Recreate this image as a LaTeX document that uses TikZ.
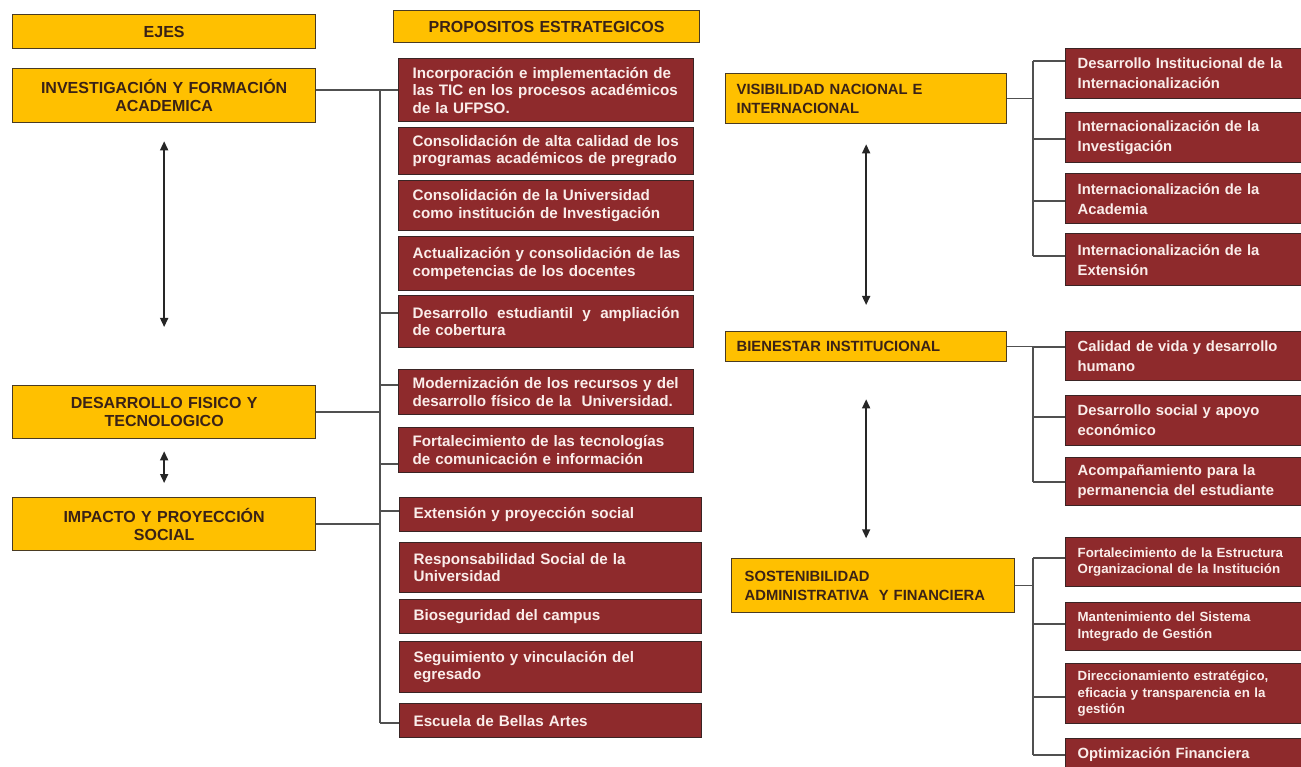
\documentclass[tikz,border=0pt]{standalone}
\usepackage{fontspec}
\setmainfont{Liberation Sans}
\newfontfamily\wideSans{Liberation Sans}[WordSpace=1.6]
\usetikzlibrary{arrows.meta}

\definecolor{gold}{HTML}{FFC000}
\definecolor{goldline}{HTML}{4A3B22}
\definecolor{maroon}{HTML}{8E2A2C}
\definecolor{maroonline}{HTML}{3A2424}
\definecolor{ink}{HTML}{3A2216}
\definecolor{paper}{HTML}{FAEDEA}
\definecolor{wire}{HTML}{505050}

% font sizes (1pt = 1 output pixel)
\newcommand\fLeft{\fontsize{16}{17.7}\selectfont\bfseries}
\newcommand\fRight{\fontsize{14.8}{19}\selectfont\bfseries}
\newcommand\fMid{\fontsize{15.2}{17.5}\selectfont\bfseries}
\newcommand\fRgt{\wideSans\fontsize{14.8}{20}\selectfont\bfseries}
\newcommand\fSml{\fontsize{13.3}{16.8}\selectfont\bfseries}
\hbadness=10000 \hfuzz=20pt

\begin{document}
\begin{tikzpicture}[x=1pt,y=-1pt,
  goldbox/.style={draw=goldline, fill=gold, line width=1.3pt, text=ink,
    inner ysep=0pt, anchor=north west},
  axis/.style={goldbox, font=\fLeft, align=center, text width=290pt,
    inner xsep=6.5pt, minimum height=#1pt},
  axisR/.style={goldbox, font=\fRight, align=left, text width=259pt,
    inner xsep=11pt, minimum height=#1pt},
  redbox/.style={draw=maroonline, fill=maroon, line width=1.3pt, text=paper,
    inner ysep=0pt, anchor=north west, align=left},
  mid/.style={redbox, font=\fMid, text width=267pt, inner xsep=14pt,
    minimum height=#1pt},
  midw/.style={redbox, font=\fMid, text width=274pt, inner xsep=14pt,
    minimum height=#1pt},
  rgt/.style={redbox, font=\fRgt, text width=221pt, inner xsep=12pt,
    minimum height=#1pt},
  sml/.style={redbox, font=\fSml, text width=221pt, inner xsep=12pt,
    minimum height=#1pt},
  wire/.style={draw=wire, line width=1.6pt},
  arr/.style={{Triangle[length=9pt,width=8pt]}-{Triangle[length=9pt,width=8pt]},
    line width=1.5pt, draw=black!85},
]
\path[use as bounding box, fill=white] (0,0) rectangle (1301,767);
\clip (0,0) rectangle (1301,767);

% ---------- headers ----------
\node[axis=34] (ejes) at (12,14) {EJES};
\node[goldbox, font=\fLeft, align=center, text width=293pt, inner xsep=6.5pt,
      minimum height=32pt] (prop) at (393,10) {PROPOSITOS ESTRATEGICOS};

% ---------- axes, left column ----------
\node[axis=54] (inv) at (12,68) {INVESTIGACIÓN Y FORMACIÓN\\ACADEMICA};
\node[axis=53] (des) at (12,385) {DESARROLLO FISICO Y\\TECNOLOGICO};
\node[axis=53] (imp) at (12,497) {IMPACTO Y PROYECCIÓN\\SOCIAL};

% ---------- strategic purposes ----------
\node[mid=63] (m1) at (398,58) {\mbox{Incorporación e implementación de}\\\mbox{las TIC en los procesos académicos}\\de la UFPSO.};
\node[mid=47] (m2) at (398,127) {\mbox{Consolidación de alta calidad de los}\\\mbox{programas académicos de pregrado}};
\node[mid=50] (m3) at (398,180) {Consolidación de la Universidad\\\mbox{como institución de Investigación}};
\node[mid=54] (m4) at (398,236) {\mbox{Actualización y consolidación de las}\\competencias de los docentes};
\node[mid=52] (m5) at (398,295) {Desarrollo\hfill estudiantil\hfill y\hfill ampliación\\de cobertura};
\node[mid=45] (m6) at (398,369) {\mbox{Modernización de los recursos y del}\\\mbox{desarrollo físico de la\ \ Universidad.}};
\node[mid=45] (m7) at (398,427) {\mbox{Fortalecimiento de las tecnologías}\\\mbox{de comunicación e información}};
\node[midw=34] (m8) at (399,497) {Extensión y proyección social};
\node[midw=50] (m9) at (399,542) {Responsabilidad Social de la\\Universidad};
\node[midw=34] (m10) at (399,599) {Bioseguridad del campus};
\node[midw=51] (m11) at (399,641) {Seguimiento y vinculación del\\egresado};
\node[midw=34] (m12) at (399,703) {Escuela de Bellas Artes};

% ---------- axes, right column ----------
\node[axisR=50] (vis) at (725,73) {VISIBILIDAD NACIONAL E\\INTERNACIONAL};
\node[axisR=30] (bien) at (725,331) {BIENESTAR INSTITUCIONAL};
\node[axisR=54, text width=257pt, inner xsep=13pt] (sost) at (731,558)
  {SOSTENIBILIDAD\\ADMINISTRATIVA\ \ Y FINANCIERA};

% ---------- programmes ----------
\node[rgt=50] (r1) at (1065,48) {\mbox{Desarrollo Institucional de la}\\Internacionalización};
\node[rgt=50] (r2) at (1065,112) {Internacionalización de la\\Investigación};
\node[rgt=50] (r3) at (1065,173) {Internacionalización de la\\Academia};
\node[rgt=52] (r4) at (1065,233) {Internacionalización de la\\Extensión};
\node[rgt=49] (r5) at (1065,331) {\mbox{Calidad de vida y desarrollo}\\humano};
\node[rgt=50] (r6) at (1065,395) {Desarrollo social y apoyo\\económico};
\node[rgt=48] (r7) at (1065,457) {Acompañamiento para la\\\mbox{permanencia del estudiante}};
\node[sml=49] (r8) at (1065,537) {\mbox{Fortalecimiento de la Estructura}\\\mbox{Organizacional de la Institución}};
\node[sml=48] (r9) at (1065,602) {Mantenimiento del Sistema\\Integrado de Gestión};
\node[sml=60] (r10) at (1065,663) {\mbox{Direccionamiento estratégico,}\\\mbox{eficacia y transparencia en la}\\gestión};
\node[rgt=31] (r11) at (1065,738) {Optimización Financiera};

% ---------- middle tree ----------
\coordinate (mbus) at (380,0);
\draw[wire] (m1.west -| inv.east) -- (m1.west);
\draw[wire] (mbus |- m1.west) -- (mbus |- 0,723);
\draw[wire] (des.east) -- (des.east -| mbus);
\draw[wire] (imp.east) -- (imp.east -| mbus);
\draw[wire] (mbus |- 0,313) -- (m5.west |- 0,313);
\draw[wire] (mbus |- 0,385) -- (m6.west |- 0,385);
\draw[wire] (mbus |- 0,464) -- (m7.west |- 0,464);
\draw[wire] (mbus |- 0,511) -- (m8.west |- 0,511);
\draw[wire] (mbus |- 0,723) -- (m12.west |- 0,723);

% ---------- right trees ----------
\coordinate (rbus) at (1033,0);
\draw[wire] (vis.east) -- (vis.east -| rbus);
\draw[wire] (rbus |- 0,61) -- (rbus |- 0,256);
\draw[wire] (rbus |- 0,61) -- (r1.west |- 0,61);
\draw[wire] (rbus |- 0,139) -- (r2.west |- 0,139);
\draw[wire] (rbus |- 0,201) -- (r3.west |- 0,201);
\draw[wire] (rbus |- 0,256) -- (r4.west |- 0,256);

\draw[wire] (bien.east) -- (bien.east -| rbus);
\draw[wire] (rbus |- bien.east) -- (rbus |- 0,482);
\draw[wire] (rbus |- 0,347) -- (r5.west |- 0,347);
\draw[wire] (rbus |- 0,417) -- (r6.west |- 0,417);
\draw[wire] (rbus |- 0,482) -- (r7.west |- 0,482);

\draw[wire] (sost.east) -- (sost.east -| rbus);
\draw[wire] (rbus |- 0,558) -- (rbus |- 0,755);
\draw[wire] (rbus |- 0,558) -- (r8.west |- 0,558);
\draw[wire] (rbus |- 0,624) -- (r9.west |- 0,624);
\draw[wire] (rbus |- 0,697) -- (r10.west |- 0,697);
\draw[wire] (rbus |- 0,755) -- (r11.west |- 0,755);

% ---------- links between axes ----------
\draw[arr] ([yshift=-18pt]inv.south) -- ([yshift=58pt]des.north);
\draw[arr] ([yshift=-12pt]des.south) -- ([yshift=14pt]imp.north);
\draw[arr] ([yshift=-20pt]vis.south) -- ([yshift=26pt]bien.north);
\draw[arr] ([yshift=-37pt]bien.south) -- ([yshift=-176pt]bien.south);
\end{tikzpicture}
\end{document}
